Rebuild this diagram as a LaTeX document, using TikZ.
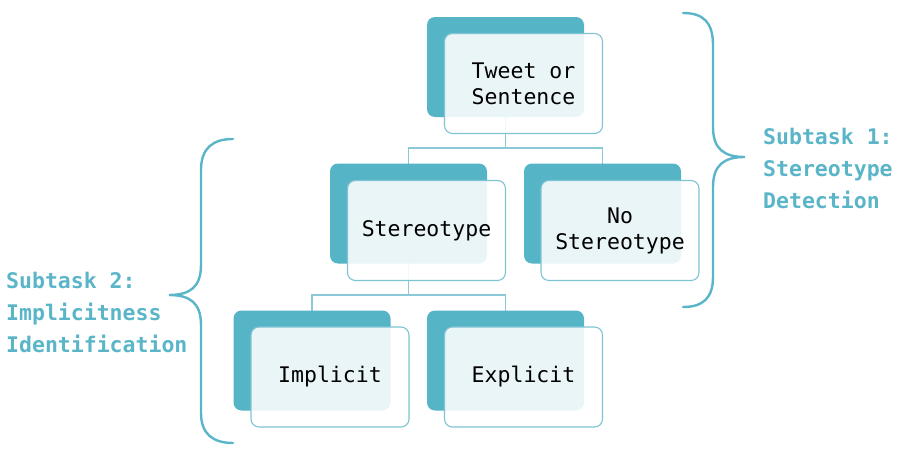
\documentclass[tikz,border=0pt]{standalone}
\usepackage{fontspec}
\setmonofont{DejaVu Sans Mono}
\usetikzlibrary{backgrounds}
\definecolor{tealfill}{HTML}{56B4C7}
\definecolor{tealline}{HTML}{7FC4D3}
\definecolor{conncol}{HTML}{8CC9D6}
\definecolor{labelcol}{HTML}{5AB5C8}
\begin{document}
\begin{tikzpicture}[x=1pt,y=-1pt,
 backbox/.style={draw=none, fill=tealfill, rounded corners=8pt, minimum width=157pt, minimum height=100pt, inner sep=0pt},
 frontbox/.style={draw=tealline, line width=1.1pt, fill=white, fill opacity=0.88, text opacity=1, rounded corners=8pt, minimum width=158pt, minimum height=100pt, inner sep=0pt, align=center, font=\ttfamily\fontsize{21.5}{26}\selectfont},
 conn/.style={draw=conncol, line width=1.2pt},
 bracestyle/.style={draw=labelcol, line width=2.4pt, line cap=round},
 tasklabel/.style={anchor=north west, inner sep=0pt, align=left, text=labelcol, font=\ttfamily\bfseries\fontsize{21.5}{32}\selectfont}]
\useasboundingbox (0,0) rectangle (908,455);

% back boxes
\node[backbox] (tb) at (505.5,67) {};
\node[backbox] (sb) at (408.5,213.5) {};
\node[backbox] (nb) at (602.5,213.5) {};
\node[backbox] (ib) at (312,360.5) {};
\node[backbox] (eb) at (505.5,360.5) {};

% front boxes
\node[frontbox] (tf) at (523.5,83.5) {Tweet or\\Sentence};
\node[frontbox] (sf) at (426.5,230.5) {Stereotype};
\node[frontbox] (nf) at (620,230.5) {No\\Stereotype};
\node[frontbox] (if) at (330,377) {Implicit};
\node[frontbox] (ef) at (523.5,377) {Explicit};

% connectors
\coordinate (j1) at (505.5,148);
\coordinate (j2) at (408.5,295);
\begin{scope}[on background layer]
\draw[conn] (tb.center) -- (j1) -| (sb.center);
\draw[conn] (j1) -| (nb.center);
\draw[conn] (sb.center) -- (j2) -| (ib.center);
\draw[conn] (j2) -| (eb.center);
\end{scope}

% braces
\coordinate (r1) at (683,13);
\coordinate (rt) at (745,157);
\coordinate (r2) at (683,307);
\draw[bracestyle] (r1) .. controls (703,13) and (713,22) .. (713,45) -- (713,127)
  .. controls (713,149) and (724,157) .. (rt)
  .. controls (724,157) and (713,165) .. (713,187) -- (713,277)
  .. controls (713,298) and (703,307) .. (r2);
\coordinate (l1) at (233,139);
\coordinate (lt) at (169,295);
\coordinate (l2) at (233,443);
\draw[bracestyle] (l1) .. controls (213,139) and (201,148) .. (201,170) -- (201,265)
  .. controls (201,287) and (190,295) .. (lt)
  .. controls (190,295) and (201,303) .. (201,325) -- (201,413)
  .. controls (201,434) and (213,443) .. (l2);

% labels
\node[tasklabel] (lab1) at (763,127.5) {Subtask 1:\\Stereotype\\Detection};
\node[tasklabel] (lab2) at (6,271.5) {Subtask 2:\\Implicitness\\Identification};
\end{tikzpicture}
\end{document}
